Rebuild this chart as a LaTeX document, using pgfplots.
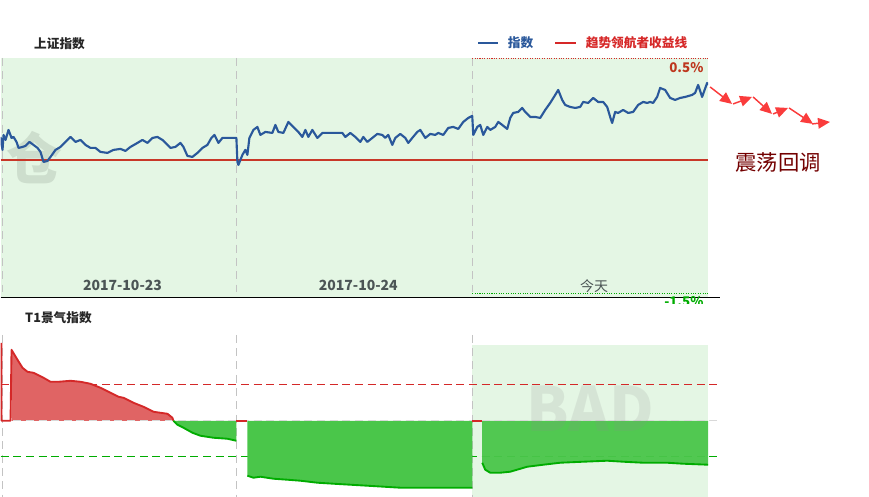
\documentclass[border=0pt]{standalone}
\usepackage{fontspec}
\setmainfont{Noto Sans CJK SC}
\usepackage{pgfplots}
\pgfplotsset{compat=1.18}
\usetikzlibrary{arrows.meta}

\definecolor{bgGreen}{RGB}{228,246,228}
\definecolor{idxBlue}{RGB}{42,88,155}
\definecolor{benchRed}{RGB}{200,55,40}
\definecolor{legRed}{RGB}{214,40,40}
\definecolor{gridGray}{RGB}{195,195,195}
\definecolor{upFill}{RGB}{224,100,100}
\definecolor{upLine}{RGB}{212,40,40}
\definecolor{dnFill}{RGB}{74,198,74}
\definecolor{dnLine}{RGB}{0,172,0}
\definecolor{labGray}{RGB}{75,85,85}
\definecolor{pctRed}{RGB}{190,55,30}
\definecolor{arrRed}{RGB}{250,60,60}
\definecolor{wmark}{RGB}{205,222,205}

\pgfplotsset{bare/.style={
    scale only axis, anchor=north west,
    axis line style={draw=none}, tick style={draw=none},
    xtick=\empty, ytick=\empty, y dir=reverse}}
\tikzset{vgrid/.style={gridGray, line width=1pt, dash pattern=on 6pt off 4pt}}

\begin{document}
\begin{tikzpicture}[x=0.75pt,y=-0.75pt]
\path (0,0) rectangle (869,497);

% ---------- upper panel: index vs benchmark
\begin{axis}[bare, at={(0,58)}, width=531pt, height=180pt,
    xmin=0, xmax=708, ymin=58, ymax=298]
\fill[bgGreen] (axis cs:0,58) rectangle (axis cs:708,298);
\node[text=wmark, font=\fontsize{42}{44}\selectfont\bfseries] at (axis cs:34,158) {仓};
\draw[vgrid] (axis cs:2,58) -- (axis cs:2,298);
\draw[vgrid] (axis cs:236,58) -- (axis cs:236,298);
\draw[vgrid] (axis cs:472,58) -- (axis cs:472,298);
\draw[legRed, densely dotted, line width=0.8pt] (axis cs:472,58.5) -- (axis cs:708,58.5);
\draw[dnLine, densely dotted, line width=0.8pt] (axis cs:472,294) -- (axis cs:708,294);
\addplot[benchRed, line width=1.5pt] coordinates {(0,160) (708,160)};
\addplot[idxBlue, line width=1.6pt, line join=round] coordinates {
(0,137)(2,150)(3,135)(5,140)(8,130)(11,138)(13,137)(16,142)(18,148)(22,147)
(25,146)(29,142)(33,145)(37,148)(40,152)(43,162)(47,161)(50,157)(55,150)(60,147)
(65,142)(70,137)(75,142)(80,140)(85,145)(90,148)(95,148)(100,152)(107,153)(113,150)
(120,149)(125,151)(130,147)(137,143)(142,140)(147,143)(152,138)(157,137)(162,140)(167,145)
(170,148)(175,147)(180,143)(183,147)(187,156)(192,157)(197,153)(202,148)(207,145)(211,138)
(214,135)(218,143)(222,138)(227,138)(232,138)(236,138)(237,162)(238,165)(242,155)(245,150)
(247,155)(249,138)(253,130)(257,127)(260,135)(265,132)(272,133)(275,125)(278,132)(283,133)
(288,122)(293,127)(298,132)(302,137)(305,130)(308,137)(312,130)(317,138)(322,133)(328,133)
(335,133)(342,133)(345,137)(350,133)(355,137)(360,142)(363,137)(367,142)(372,138)(377,134)
(382,135)(385,138)(388,135)(392,145)(395,138)(400,134)(405,138)(408,143)(412,138)(417,132)
(420,130)(425,138)(430,134)(435,135)(438,133)(443,135)(448,128)(453,127)(458,129)(463,122)
(468,118)(472,116)(473,135)(477,127)(480,125)(483,135)(487,127)(490,130)(495,127)(498,122)
(502,125)(507,129)(510,118)(513,113)(518,112)(522,108)(525,112)(530,117)(535,117)(540,118)
(545,110)(550,103)(555,95)(558,90)(562,100)(565,105)(570,107)(575,108)(580,107)(583,102)
(588,103)(593,98)(598,102)(603,102)(607,107)(610,117)(612,123)(615,112)(618,113)(623,110)
(628,113)(633,112)(638,105)(643,102)(647,103)(650,102)(653,103)(657,97)(660,88)(665,90)
(670,98)(675,100)(680,98)(685,97)(692,95)(695,93)(698,85)(702,97)(707,83)(708,85)};
\end{axis}

% ---------- lower panel: T1 index
\begin{axis}[bare, at={(0,335)}, width=540pt, height=121.5pt,
    xmin=0, xmax=720, ymin=335, ymax=497]
\fill[bgGreen] (axis cs:472,345) rectangle (axis cs:708,497);
\draw[vgrid] (axis cs:2,335) -- (axis cs:2,497);
\draw[vgrid] (axis cs:236,335) -- (axis cs:236,497);
\draw[vgrid] (axis cs:472,335) -- (axis cs:472,497);
\draw[upLine, line width=0.8pt, dash pattern=on 6pt off 3.5pt] (axis cs:0,385) -- (axis cs:720,385);
\draw[dnLine, line width=0.8pt, dash pattern=on 6pt off 3.5pt] (axis cs:0,457) -- (axis cs:720,457);
% filled areas
\addplot[draw=none, fill=upFill] coordinates {
(11,421)(11,350)(17,360)(22,368)(27,372)(33,373)(43,378)(50,382)(58,382)(70,381)
(80,382)(90,384)(100,388)(110,393)(118,397)(123,398)(133,403)(143,407)(153,412)(160,413)
(167,414)(172,418)(173,421)};
\addplot[draw=none, fill=dnFill] coordinates {
(173,421)(177,425)(183,428)(192,433)(200,436)(213,438)(227,439)(236,441)(236,421)};
\addplot[draw=none, fill=dnFill] coordinates {
(247,421)(247,476)(253,478)(260,477)(273,479)(287,480)(300,481)(317,483)(333,484)(367,486)
(400,488)(433,488)(450,488)(472,488)(472,421)};
\addplot[draw=none, fill=dnFill, fill opacity=0.95] coordinates {
(482,421)(482,463)(485,470)(490,473)(500,473)(510,472)(527,467)(543,465)(560,463)(583,462)
(607,461)(623,462)(643,463)(667,463)(683,464)(708,465)(708,421)};
\draw[gray!30, line width=0.8pt, dash pattern=on 6pt off 3.5pt] (axis cs:0,421) -- (axis cs:720,421);
% outlines
\addplot[upLine, line width=1.4pt, line join=round] coordinates {
(1,343)(1,421)(10,421)(11,350)(17,360)(22,368)(27,372)(33,373)(43,378)(50,382)(58,382)
(70,381)(80,382)(90,384)(100,388)(110,393)(118,397)(123,398)(133,403)(143,407)(153,412)
(160,413)(167,414)(172,418)(173,421)};
\addplot[dnLine, line width=1.4pt, line join=round] coordinates {
(173,421)(177,425)(183,428)(192,433)(200,436)(213,438)(227,439)(236,441)};
\addplot[upLine, line width=1.6pt] coordinates {(236,421)(247,421)};
\addplot[dnLine, line width=1.4pt, line join=round] coordinates {
(247,476)(253,478)(260,477)(273,479)(287,480)(300,481)(317,483)(333,484)(367,486)
(400,488)(433,488)(450,488)(472,488)};
\addplot[upLine, line width=1.6pt] coordinates {(472,421)(482,421)};
\addplot[dnLine, line width=1.4pt, line join=round] coordinates {
(482,463)(485,470)(490,473)(500,473)(510,472)(527,467)(543,465)(560,463)(583,462)
(607,461)(623,462)(643,463)(667,463)(683,464)(708,465)};
\node[text=black!45, opacity=0.16, font=\fontsize{46}{46}\selectfont\bfseries] at (axis cs:590,409) {BAD};
\end{axis}

% ---------- decorations, titles and legend
\draw[black, line width=0.8pt] (0,298) -- (720,298);
\node[text=labGray, font=\fontsize{10.5}{12}\selectfont\bfseries] at (122,286) {2017-10-23};
\node[text=labGray, font=\fontsize{10.5}{12}\selectfont\bfseries] at (358,286) {2017-10-24};
\node[text=labGray, font=\fontsize{10.5}{12}\selectfont] at (594,286) {今天};
\node[anchor=east, text=pctRed, font=\fontsize{10}{12}\selectfont\bfseries] at (708,68) {0.5\%};
\node[anchor=east, text=dnLine, font=\fontsize{10}{12}\selectfont\bfseries] at (708,302) {-1.5\%};
\fill[white] (650,304) rectangle (715,316);

\node[anchor=west, text=black!85, font=\fontsize{9.5}{11}\selectfont\bfseries] at (29,44) {上证指数};
\node[anchor=west, text=black!85, font=\fontsize{9.5}{11}\selectfont\bfseries] at (20,318) {T1景气指数};

\draw[idxBlue, line width=1.5pt] (478,43) -- (498,43);
\node[anchor=west, text=idxBlue, font=\fontsize{9.5}{11}\selectfont\bfseries] at (503,43) {指数};
\draw[legRed, line width=1.5pt] (555,43) -- (576,43);
\node[anchor=west, text=legRed, font=\fontsize{9.5}{11}\selectfont\bfseries] at (581,43) {趋势领航者收益线};

\begin{scope}[arrRed, line width=1.1pt, -{Triangle[length=9pt,width=8pt]}]
\draw (710,87) -- (732,104);
\draw (733,104) -- (752,97);
\draw (753,97) -- (772,114);
\draw (773,114) -- (788,108);
\draw (789,108) -- (813,124);
\draw (812,124) -- (830,122);
\end{scope}
\node[text=red!45!black, font=\fontsize{16}{18}\selectfont] at (778,163) {震荡回调};
\end{tikzpicture}
\end{document}
